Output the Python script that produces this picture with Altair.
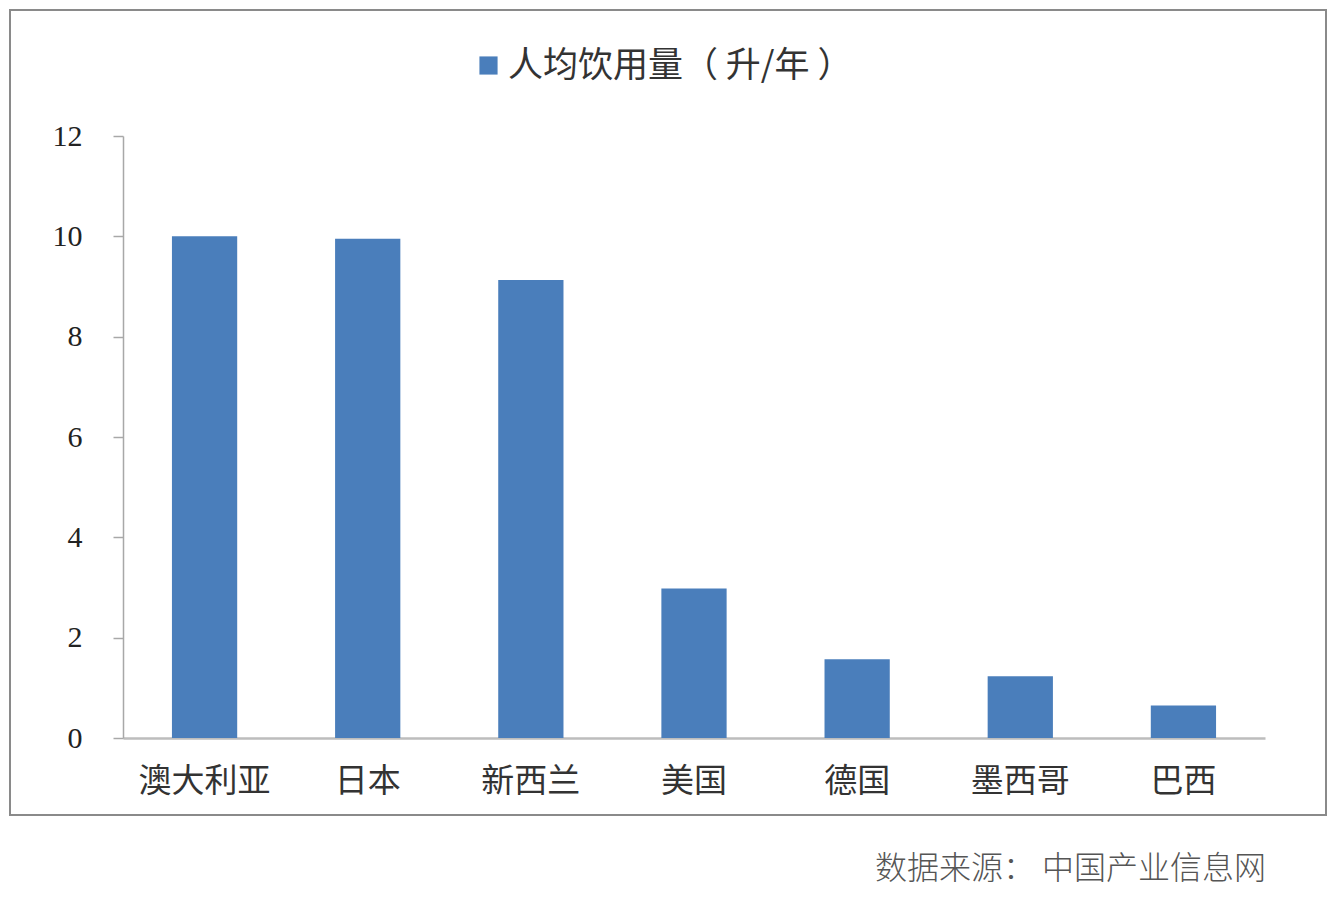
import altair as alt
import pandas as pd

countries = ["澳大利亚", "日本", "新西兰", "美国", "德国", "墨西哥", "巴西"]
values = [10.0, 9.95, 9.13, 2.98, 1.57, 1.23, 0.65]
series_name = "人均饮用量（ 升/年 ）"
y_ticks = [0, 2, 4, 6, 8, 10, 12]
source_text = "数据来源： 中国产业信息网"

df = pd.DataFrame({"country": countries, "value": values, "series": [series_name] * len(countries)})

W, H = 1142, 602

bars = alt.Chart(df).mark_bar(color="#4a7ebb").encode(
    x=alt.X("country:N", sort=countries,
            scale=alt.Scale(paddingInner=0.6, paddingOuter=0.3),
            axis=alt.Axis(title=None, labelAngle=0, ticks=False, domainColor="#bdbdbd",
                          domainWidth=2.5, labelFont="Noto Sans CJK SC", labelFontSize=33,
                          labelColor="#333333", labelPadding=27)),
    y=alt.Y("value:Q", scale=alt.Scale(domain=[0, 12], nice=False),
            axis=alt.Axis(title=None, values=y_ticks, grid=False, tickSize=10,
                          tickColor="#a8a8a8", tickWidth=1.5, domainColor="#a8a8a8",
                          domainWidth=1.5, labelFont="Liberation Serif", labelFontSize=30,
                          labelColor="#222222", labelPadding=31)),
    color=alt.Color("series:N", scale=alt.Scale(range=["#4a7ebb"]),
                    legend=alt.Legend(title=None, orient="none", legendX=348, legendY=-88,
                                      symbolType="square", symbolSize=330,
                                      symbolStrokeWidth=0, labelFont="Noto Sans CJK SC",
                                      labelFontSize=35, labelColor="#333333",
                                      labelOffset=2, labelLimit=0)),
)

border = alt.Chart(df).mark_rect(fill=None, stroke="#8a8a8a", strokeWidth=1.5).encode(
    x=alt.value(-113), x2=alt.value(1203), y=alt.value(-126), y2=alt.value(679)
)

source = alt.Chart(pd.DataFrame({"t": [source_text]})).mark_text(
    align="right", baseline="middle", font="Noto Sans CJK SC", fontSize=32,
    color="#555555", fontWeight=300
).encode(text="t:N", x=alt.value(1143), y=alt.value(733))

chart = alt.layer(border, bars, source).properties(
    width=W, height=H,
    padding={"left": 115, "top": 128, "right": 65, "bottom": 156},
    autosize=alt.AutoSizeParams(type="none"),
    background="#ffffff",
).configure_view(stroke=None)

chart.save("out.html", embed_options={"renderer": "svg", "actions": False})
